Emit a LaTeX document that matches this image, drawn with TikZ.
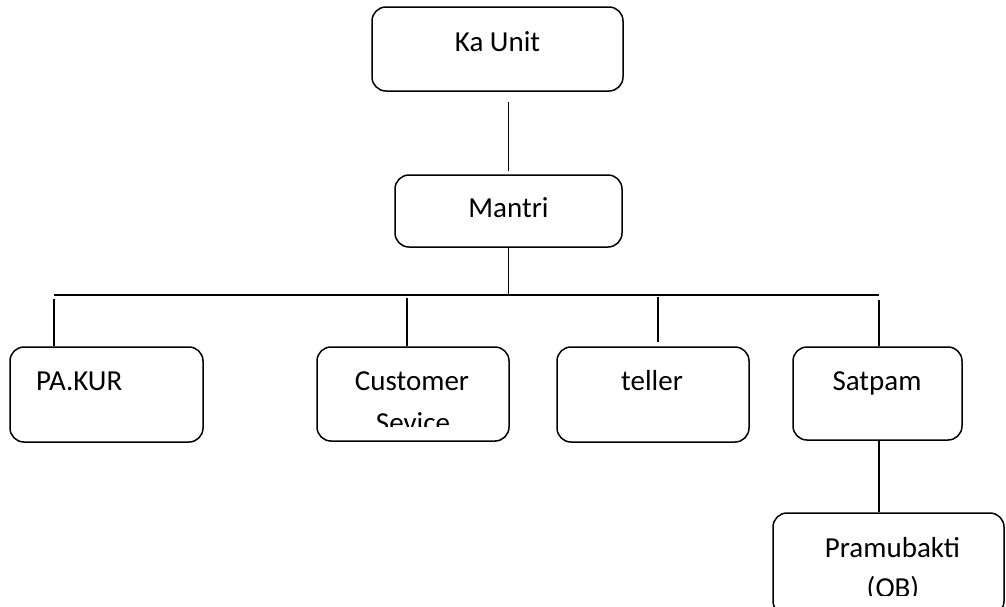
\documentclass[tikz,border=0pt]{standalone}
\usepackage{fontspec}
\setmainfont{Carlito}
\usepackage{tikz}
\usetikzlibrary{arrows,shapes}

\tikzset{
  unitbox/.style={draw, rounded corners=14pt, line width=1.5pt, inner sep=0pt},
  boxtext/.style={anchor=base, inner sep=0pt, font=\fontsize{29}{35}\selectfont},
  link/.style={line width=1.5pt}
}

\begin{document}
\begin{tikzpicture}[x=1pt, y=-1pt]
      \useasboundingbox (0,0) rectangle (1006,606);
      % boxes
      \node[unitbox, minimum width=251pt, minimum height=84pt] (kaunit) at (497.5,49) {}; % top
      \node[unitbox, minimum width=227pt, minimum height=72pt] (mantri) at (508.5,211) {};
      \node[unitbox, minimum width=193pt, minimum height=95pt] (pakur) at (106.5,394.5) {};
      \node[unitbox, minimum width=192pt, minimum height=94pt] (custserv) at (413,394) {};
      \node[unitbox, minimum width=192pt, minimum height=95pt] (teller) at (653,394.5) {};
      \node[unitbox, minimum width=169pt, minimum height=93pt] (satpam) at (877.5,393.5) {};
      \node[unitbox, minimum width=231pt, minimum height=102pt] (pramubakti) at (888.5,564) {}; % bottom
      % texts
      \node[boxtext] (kaunittext) at (497.5,51) {Ka Unit};
      \node[boxtext] (mantritext) at (508.5,217) {Mantri};
      \node[boxtext, anchor=base west] (pakurtext) at (36,390) {PA.KUR};
      \node[boxtext] (tellertext) at (652,390) {teller};
      \node[boxtext] (satpamtext) at (877,390) {Satpam};
      \begin{scope}
        \clip (317,347) rectangle (509,426);
        \node[boxtext] (custtext) at (412,390) {Customer};
        \node[boxtext] (sevicetext) at (413,432) {Sevice};
      \end{scope}
      \begin{scope}
        \clip (773,513) rectangle (1004,595);
        \node[boxtext] (pramutext) at (892.5,557) {Pramubakti};
        \node[boxtext] (obtext) at (893,597) {(OB)};
      \end{scope}
      % lines
      \coordinate (busleft) at (54,295);
      \coordinate (busright) at (879,295);
      \draw[link, shorten <=10pt, shorten >=3pt] (mantri.north |- kaunit.south) -- (mantri.north);
      \draw[link] (mantri.south) -- (mantri.south |- busleft);
      \draw[link] (busleft) -- (busright);
      \draw[link, shorten <=4pt] (busleft) -- (busleft |- pakur.north);
      \draw[link, shorten <=3pt] ([xshift=-6pt]custserv.north |- busleft) -- ([xshift=-6pt]custserv.north);
      \draw[link, shorten <=2pt, shorten >=4pt] ([xshift=5pt]teller.north |- busleft) -- ([xshift=5pt]teller.north);
      \draw[link, shorten <=5pt] (busright) -- (busright |- satpam.north);
      \draw[link] (busright |- satpam.south) -- (busright |- pramubakti.north);
\end{tikzpicture}
\end{document}
